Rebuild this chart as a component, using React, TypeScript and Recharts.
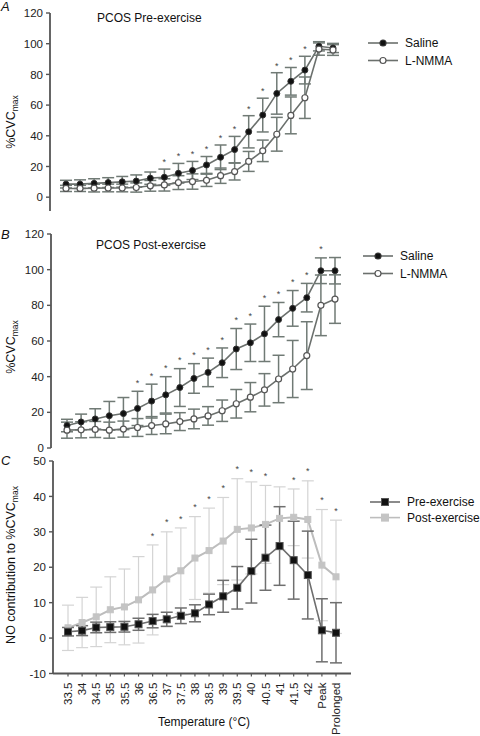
import React from 'react'
import { ComposedChart, Line, XAxis, YAxis, ErrorBar } from 'recharts'

const categories = ['33.5', '34', '34.5', '35', '35.5', '36', '36.5', '37', '37.5', '38', '38.5', '39', '39.5', '40', '40.5', '41', '41.5', '42', 'Peak', 'Prolonged']

// Panel A - PCOS pre-exercise (%CVCmax)
const salineA = [8.5, 8.5, 9, 9.5, 10, 10.5, 12.4, 13, 15.6, 17.4, 21, 26, 31, 42.6, 53.5, 67.6, 75.5, 82.8, 98.3, 97.2]
const salineAErr = [2.5, 2.8, 3, 3.2, 3.5, 4, 4, 5.3, 6.4, 5.9, 5.5, 8, 8.6, 10.5, 11, 13.5, 9, 9, 3, 3]
const lnmmaA = [5.7, 5.7, 5.9, 6, 6, 6.3, 7.4, 8, 9.5, 10.2, 11, 14, 16.7, 23.3, 30.2, 41, 53.3, 64.8, 96.5, 95.9]
const lnmmaAErr = [2, 2, 2.5, 2.5, 2.5, 3, 3.5, 4, 4.5, 5, 4, 5, 5.5, 6.5, 7, 11, 12, 13.5, 4, 3.5]
const sigA = [0, 0, 0, 0, 0, 0, 0, 1, 1, 1, 1, 1, 1, 1, 1, 1, 1, 1, 0, 0]

// Panel B - PCOS post-exercise (%CVCmax)
const salineB = [12.6, 14.6, 16.3, 18.1, 19.3, 22.2, 26.3, 29.8, 33.9, 39, 42.4, 47.8, 55.5, 59, 64, 72, 78.3, 84.3, 99.4, 99.4]
const salineBErr = [3.5, 4.4, 5.7, 8, 9, 9.6, 9.5, 10.2, 10.6, 8.3, 8, 8.3, 11.5, 10.5, 15.5, 9.6, 10, 8, 7.2, 7.4]
const lnmmaB = [10, 10.2, 10.4, 10, 10.6, 11.5, 12.6, 13.5, 14.8, 16.3, 18, 20.9, 24.8, 28.5, 32.6, 38.7, 44.3, 51.8, 80, 83.5]
const lnmmaBErr = [4.5, 4.5, 4.5, 4.5, 4.5, 5, 5, 5.5, 5, 5.5, 5.2, 6, 8, 8.2, 9.1, 13.3, 16, 19, 17, 13.6]
const sigB = [0, 0, 0, 0, 0, 1, 1, 1, 1, 1, 1, 1, 1, 1, 1, 1, 1, 1, 1, 0]

// Panel C - NO contribution to %CVCmax
const preC = [1.8, 2.1, 3, 3.1, 3.2, 3.9, 4.8, 5.3, 6.3, 7, 9.5, 11.8, 14.2, 18.9, 22.7, 26, 22, 17.8, 2.2, 1.5]
const preCErr = [1.2, 1.4, 1.5, 1.5, 1.5, 1.7, 1.9, 2, 2.2, 2.4, 2.9, 4.5, 6, 9, 9.2, 11.1, 11, 12.4, 8.9, 8.5]
const postC = [2.9, 4.4, 6, 8, 8.8, 10.8, 13.6, 16.7, 19, 22.6, 24.7, 27.4, 30.7, 31.1, 32.1, 33.8, 34.1, 33.5, 20.6, 17.3]
const postCErr = [6.4, 7.1, 8.4, 9.3, 10.7, 12.2, 12.7, 13.3, 12.1, 11.7, 12, 12.3, 14.3, 13, 11, 8.9, 8, 10.9, 15.7, 16]
const sigC = [0, 0, 0, 0, 0, 0, 1, 1, 1, 1, 1, 1, 1, 1, 1, 0, 1, 1, 1, 1]

const ticksCVC = [0, 20, 40, 60, 80, 100, 120]
const ticksNO = [-10, 0, 10, 20, 30, 40, 50]

const FONT = '"Liberation Sans", Arial, Helvetica, sans-serif'
const AXIS = '#555'
const LINE = '#6b706d'
const BAR = '#707a75'

const buildRows = (a: number[], aErr: number[], b: number[], bErr: number[], sig: number[], top: number[], topErr: number[], gap: number) =>
    categories.map((t, i) => ({
        t,
        a: a[i],
        aErr: aErr[i],
        b: b[i],
        bErr: bErr[i],
        star: sig[i] ? top[i] + topErr[i] + gap : null,
    }))

const rowsA = buildRows(salineA, salineAErr, lnmmaA, lnmmaAErr, sigA, salineA, salineAErr, 5)
const rowsB = buildRows(salineB, salineBErr, lnmmaB, lnmmaBErr, sigB, salineB, salineBErr, 5)
const rowsC = buildRows(preC, preCErr, postC, postCErr, sigC, postC, postCErr, 2.8)

const starDot = (props: any) => {
    const { cx, cy, index } = props
    if (cx == null || cy == null || Number.isNaN(cy)) return <g key={`s${index}`} />
    return (
        <text key={`s${index}`} x={cx} y={cy} dy={3.5} textAnchor="middle" fontSize={9} fill="#444" fontFamily={FONT}>
            *
        </text>
    )
}

const squareDot = (fill: string, stroke: string, size: number) => (props: any) => {
    const { cx, cy, index } = props
    if (cx == null || cy == null) return <g key={`q${index}`} />
    return <rect key={`q${index}`} x={cx - size / 2} y={cy - size / 2} width={size} height={size} fill={fill} stroke={stroke} strokeWidth={1} />
}

type Marker = { name: string; kind: 'circle' | 'square'; fill: string; stroke: string; line: string }

const legendAB: Marker[] = [
    { name: 'Saline', kind: 'circle', fill: '#111', stroke: '#333', line: LINE },
    { name: 'L-NMMA', kind: 'circle', fill: '#fff', stroke: '#555', line: LINE },
]
const legendC: Marker[] = [
    { name: 'Pre-exercise', kind: 'square', fill: '#111', stroke: '#555', line: '#6e6e6e' },
    { name: 'Post-exercise', kind: 'square', fill: '#c4c4c4', stroke: '#c4c4c4', line: '#bdbdbd' },
]

function LegendBox({ items, left, top, spacing }: { items: Marker[]; left: number; top: number; spacing: number }) {
    return (
        <svg width={120} height={spacing * 2 + 6} style={{ position: 'absolute', left, top }}>
            {items.map((m, i) => {
                const y = 8 + i * spacing
                return (
                    <g key={m.name}>
                        <line x1={2} x2={32} y1={y} y2={y} stroke={m.line} strokeWidth={1.6} />
                        {m.kind === 'circle'
                            ? <circle cx={17} cy={y} r={3} fill={m.fill} stroke={m.stroke} strokeWidth={1.2} />
                            : <rect x={13.5} y={y - 3.5} width={7} height={7} fill={m.fill} stroke={m.stroke} strokeWidth={1} />}
                        <text x={39} y={y} dy="0.36em" fontSize={12} fill="#111" fontFamily={FONT}>{m.name}</text>
                    </g>
                )
            })}
        </svg>
    )
}

const RotTick = (props: any) => {
    const { x, y, payload } = props
    return (
        <text x={x} y={y} transform={`rotate(-90, ${x}, ${y})`} textAnchor="end" dy="0.36em" fontSize={11.5} fill="#222" fontFamily={FONT}>
            {payload.value}
        </text>
    )
}

const YTick = (props: any) => {
    const { x, y, payload } = props
    return (
        <text x={x} y={y} textAnchor="end" dy="0.36em" fontSize={11.5} fill="#222" fontFamily={FONT}>
            {String(payload.value)}
        </text>
    )
}

const overlay = (style: React.CSSProperties, content: React.ReactNode, key: string) => (
    <div key={key} style={{ position: 'absolute', whiteSpace: 'nowrap', lineHeight: 1, fontFamily: FONT, color: '#111', ...style }}>
        {content}
    </div>
)

const yLabel = (pre: string) => (
    <span>
        {pre}%CVC<sub style={{ fontSize: 8.5, verticalAlign: 'sub' }}>max</sub>
    </span>
)

function PanelAB({ rows, top, height, margin, padLeft, padRight, domain }: any) {
    return (
        <div style={{ position: 'absolute', left: 0, top }}>
            <ComposedChart width={480} height={height} data={rows} margin={margin}>
                <XAxis dataKey="t" hide scale="point" padding={{ left: padLeft, right: padRight }} />
                <YAxis
                    type="number"
                    domain={domain}
                    ticks={ticksCVC}
                    interval={0}
                    width={40}
                    tick={<YTick />}
                    tickSize={4}
                    tickMargin={3}
                    axisLine={{ stroke: AXIS, strokeWidth: 1.8 }}
                    tickLine={{ stroke: AXIS, strokeWidth: 1.4 }}
                />
                <Line dataKey="a" name="Saline" stroke={LINE} strokeWidth={1.6} isAnimationActive={false}
                    dot={{ r: 3, fill: '#111', stroke: '#333', strokeWidth: 1 }} activeDot={false}>
                    <ErrorBar dataKey="aErr" width={6} stroke={BAR} strokeWidth={1.5} direction="y" />
                </Line>
                <Line dataKey="b" name="L-NMMA" stroke={LINE} strokeWidth={1.6} isAnimationActive={false}
                    dot={{ r: 3, fill: '#fff', stroke: '#555', strokeWidth: 1.2 }} activeDot={false}>
                    <ErrorBar dataKey="bErr" width={6} stroke={BAR} strokeWidth={1.5} direction="y" />
                </Line>
                <Line dataKey="star" stroke="none" legendType="none" dot={starDot} activeDot={false} isAnimationActive={false} />
            </ComposedChart>
        </div>
    )
}

export default function App() {
    return (
        <div style={{ position: 'absolute', left: 0, top: 0, width: 480, height: 736, background: '#fff', overflow: 'hidden' }}>
            <div style={{ position: 'absolute', left: 0, top: 440 }}>
                <ComposedChart width={480} height={296} data={rowsC} margin={{ top: 21, right: 129, bottom: 0, left: 13 }}>
                    <XAxis
                        dataKey="t"
                        scale="point"
                        padding={{ left: 15, right: 15 }}
                        interval={0}
                        height={62.5}
                        tick={<RotTick />}
                        tickSize={3}
                        tickMargin={6}
                        axisLine={{ stroke: AXIS, strokeWidth: 1.8 }}
                        tickLine={{ stroke: AXIS, strokeWidth: 1.2 }}
                    />
                    <YAxis
                        type="number"
                        domain={[-10, 50]}
                        ticks={ticksNO}
                        interval={0}
                        width={40}
                        tick={<YTick />}
                        tickSize={4}
                        tickMargin={3}
                        axisLine={{ stroke: AXIS, strokeWidth: 1.8 }}
                        tickLine={{ stroke: AXIS, strokeWidth: 1.4 }}
                        allowDataOverflow
                    />
                    <Line dataKey="b" name="Post-exercise" stroke="#bdbdbd" strokeWidth={2} isAnimationActive={false}
                        dot={squareDot('#c4c4c4', '#c4c4c4', 6)} activeDot={false}>
                        <ErrorBar dataKey="bErr" width={6} stroke="#d4d4d4" strokeWidth={1.2} direction="y" />
                    </Line>
                    <Line dataKey="a" name="Pre-exercise" stroke="#6e6e6e" strokeWidth={1.6} isAnimationActive={false}
                        dot={squareDot('#111', '#555', 7)} activeDot={false}>
                        <ErrorBar dataKey="aErr" width={6} stroke="#6f6f6f" strokeWidth={1.5} direction="y" />
                    </Line>
                    <Line dataKey="star" stroke="none" legendType="none" dot={starDot} activeDot={false} isAnimationActive={false} />
                </ComposedChart>
            </div>

            <PanelAB rows={rowsA} top={0} height={220} margin={{ top: 13, right: 130, bottom: 9, left: 10 }}
                padLeft={16} padRight={17} domain={[-9, 120]} />
            <PanelAB rows={rowsB} top={220} height={252} margin={{ top: 14, right: 129, bottom: 24, left: 11 }}
                padLeft={16} padRight={16} domain={[0, 120]} />

            <LegendBox items={legendAB} left={366} top={35} spacing={17.5} />
            <LegendBox items={legendAB} left={361} top={248} spacing={17.5} />
            <LegendBox items={legendC} left={368} top={494} spacing={15.6} />

            {overlay({ left: 1, top: 0, fontSize: 13, fontStyle: 'italic' }, 'A', 'la')}
            {overlay({ left: 1, top: 227.5, fontSize: 13, fontStyle: 'italic' }, 'B', 'lb')}
            {overlay({ left: 1, top: 453.5, fontSize: 13, fontStyle: 'italic' }, 'C', 'lc')}
            {overlay({ left: 97, top: 12, fontSize: 12 }, 'PCOS Pre-exercise', 'ta')}
            {overlay({ left: 96, top: 239, fontSize: 12 }, 'PCOS Post-exercise', 'tb')}
            {overlay({ left: 12, top: 122, fontSize: 12.5, transform: 'translate(-50%, -50%) rotate(-90deg)' }, yLabel(''), 'ya')}
            {overlay({ left: 12, top: 347, fontSize: 12.5, transform: 'translate(-50%, -50%) rotate(-90deg)' }, yLabel(''), 'yb')}
            {overlay({ left: 12, top: 565, fontSize: 12.5, transform: 'translate(-50%, -50%) rotate(-90deg)' }, yLabel('NO contribution to '), 'yc')}
            {overlay({ left: 204, top: 716, fontSize: 12, transform: 'translateX(-50%)' }, 'Temperature (°C)', 'xt')}
        </div>
    )
}
